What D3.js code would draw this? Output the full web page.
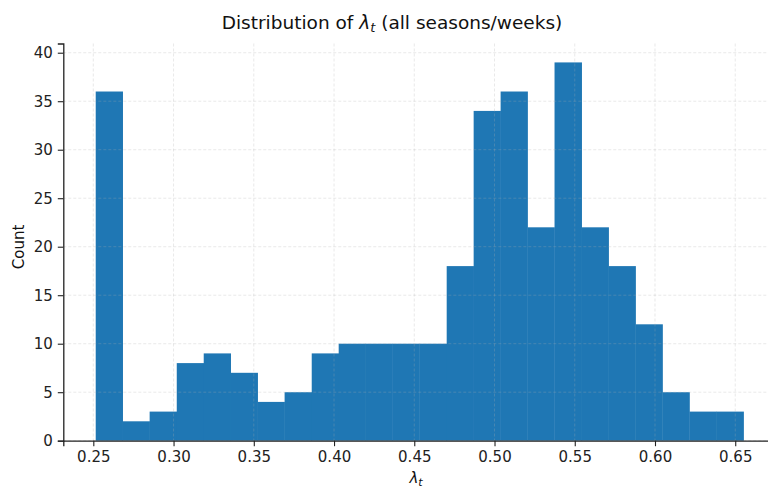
<!DOCTYPE html>
<html>
<head>
<meta charset="utf-8">
<script src="https://cdn.jsdelivr.net/npm/d3@7"></script>
<style>
  html, body { margin: 0; padding: 0; background: #fff; }
  svg { display: block; font-family: "DejaVu Sans", sans-serif; }
</style>
</head>
<body>
<svg id="chart" width="768" height="489"></svg>
<script>
// Histogram bin edges (lambda_t) and counts
const binEdges = [0.2515, 0.2683, 0.2851, 0.3020, 0.3188, 0.3356, 0.3524, 0.3692,
  0.3861, 0.4029, 0.4197, 0.4365, 0.4533, 0.4702, 0.4870, 0.5038, 0.5206, 0.5374,
  0.5543, 0.5711, 0.5879, 0.6047, 0.6215, 0.6384, 0.6552];
const counts = [36, 2, 3, 8, 9, 7, 4, 5, 9, 10, 10, 10, 10, 18, 34, 36, 22, 39, 22, 18, 12, 5, 3, 3];
const xTicks = [0.25, 0.30, 0.35, 0.40, 0.45, 0.50, 0.55, 0.60, 0.65];
const yTicks = [0, 5, 10, 15, 20, 25, 30, 35, 40];

(function () {
const svg = d3.select("#chart");
const mLeft = 63.3, mRight = 776, mTop = 43.5, mBottom = 440.7;

const x = d3.scaleLinear().domain([0.2313, 0.6754]).range([mLeft, mRight]);
const y = d3.scaleLinear().domain([0, 40.95]).range([mBottom, mTop]);

const bins = counts.map((c, i) => ({ x0: binEdges[i], x1: binEdges[i + 1], n: c }));

// bars
svg.append("g").selectAll("rect").data(bins).join("rect")
  .attr("x", d => x(d.x0))
  .attr("width", d => x(d.x1) - x(d.x0) + 0.3)
  .attr("y", d => y(d.n))
  .attr("height", d => y(0) - y(d.n))
  .attr("fill", "#1f77b4");

// grid (drawn faintly on top)
const grid = svg.append("g").attr("stroke", "#b0b0b0").attr("stroke-opacity", 0.35)
  .attr("stroke-width", 0.8).attr("stroke-dasharray", "3,2");
grid.selectAll("line.gx").data(xTicks).join("line").attr("class", "gx")
  .attr("x1", d => x(d)).attr("x2", d => x(d)).attr("y1", mTop).attr("y2", mBottom);
grid.selectAll("line.gy").data(yTicks).join("line").attr("class", "gy")
  .attr("y1", d => y(d)).attr("y2", d => y(d)).attr("x1", mLeft).attr("x2", 768);

// axes
const xAxis = svg.append("g").attr("transform", `translate(0,${mBottom})`)
  .call(d3.axisBottom(x).tickValues(xTicks).tickFormat(d3.format(".2f")).tickSizeOuter(0).tickSize(5.5).tickPadding(5));
const yAxis = svg.append("g").attr("transform", `translate(${mLeft},0)`)
  .call(d3.axisLeft(y).tickValues(yTicks).tickFormat(d3.format("d")).tickSizeOuter(0).tickSize(5.5).tickPadding(5));

[xAxis, yAxis].forEach(a => {
  a.select(".domain").attr("stroke", "#222").attr("stroke-width", 1.3);
  a.selectAll(".tick line").attr("stroke", "#222").attr("stroke-width", 1.1);
  a.selectAll(".tick text").attr("fill", "#222").style("font-size", "15px")
    .style("font-family", "'DejaVu Sans', sans-serif");
});

// title
const title = svg.append("text").attr("x", 392).attr("y", 29).attr("text-anchor", "middle")
  .style("font-size", "18.5px").attr("fill", "#111");
title.append("tspan").text("Distribution of ");
title.append("tspan").style("font-style", "italic").text("λ");
title.append("tspan").style("font-style", "italic").style("font-size", "13px").attr("dy", 3).text("t");
title.append("tspan").attr("dy", -3).text(" (all seasons/weeks)");

// x label
const xl = svg.append("text").attr("x", 416).attr("y", 483).attr("text-anchor", "middle")
  .style("font-size", "15px").attr("fill", "#111");
xl.append("tspan").style("font-style", "italic").text("λ");
xl.append("tspan").style("font-style", "italic").style("font-size", "11px").attr("dy", 3).text("t");

// y label
svg.append("text").attr("transform", "translate(24,247) rotate(-90)").attr("text-anchor", "middle")
  .style("font-size", "15px").attr("fill", "#111").text("Count");
})();
</script>
</body>
</html>
